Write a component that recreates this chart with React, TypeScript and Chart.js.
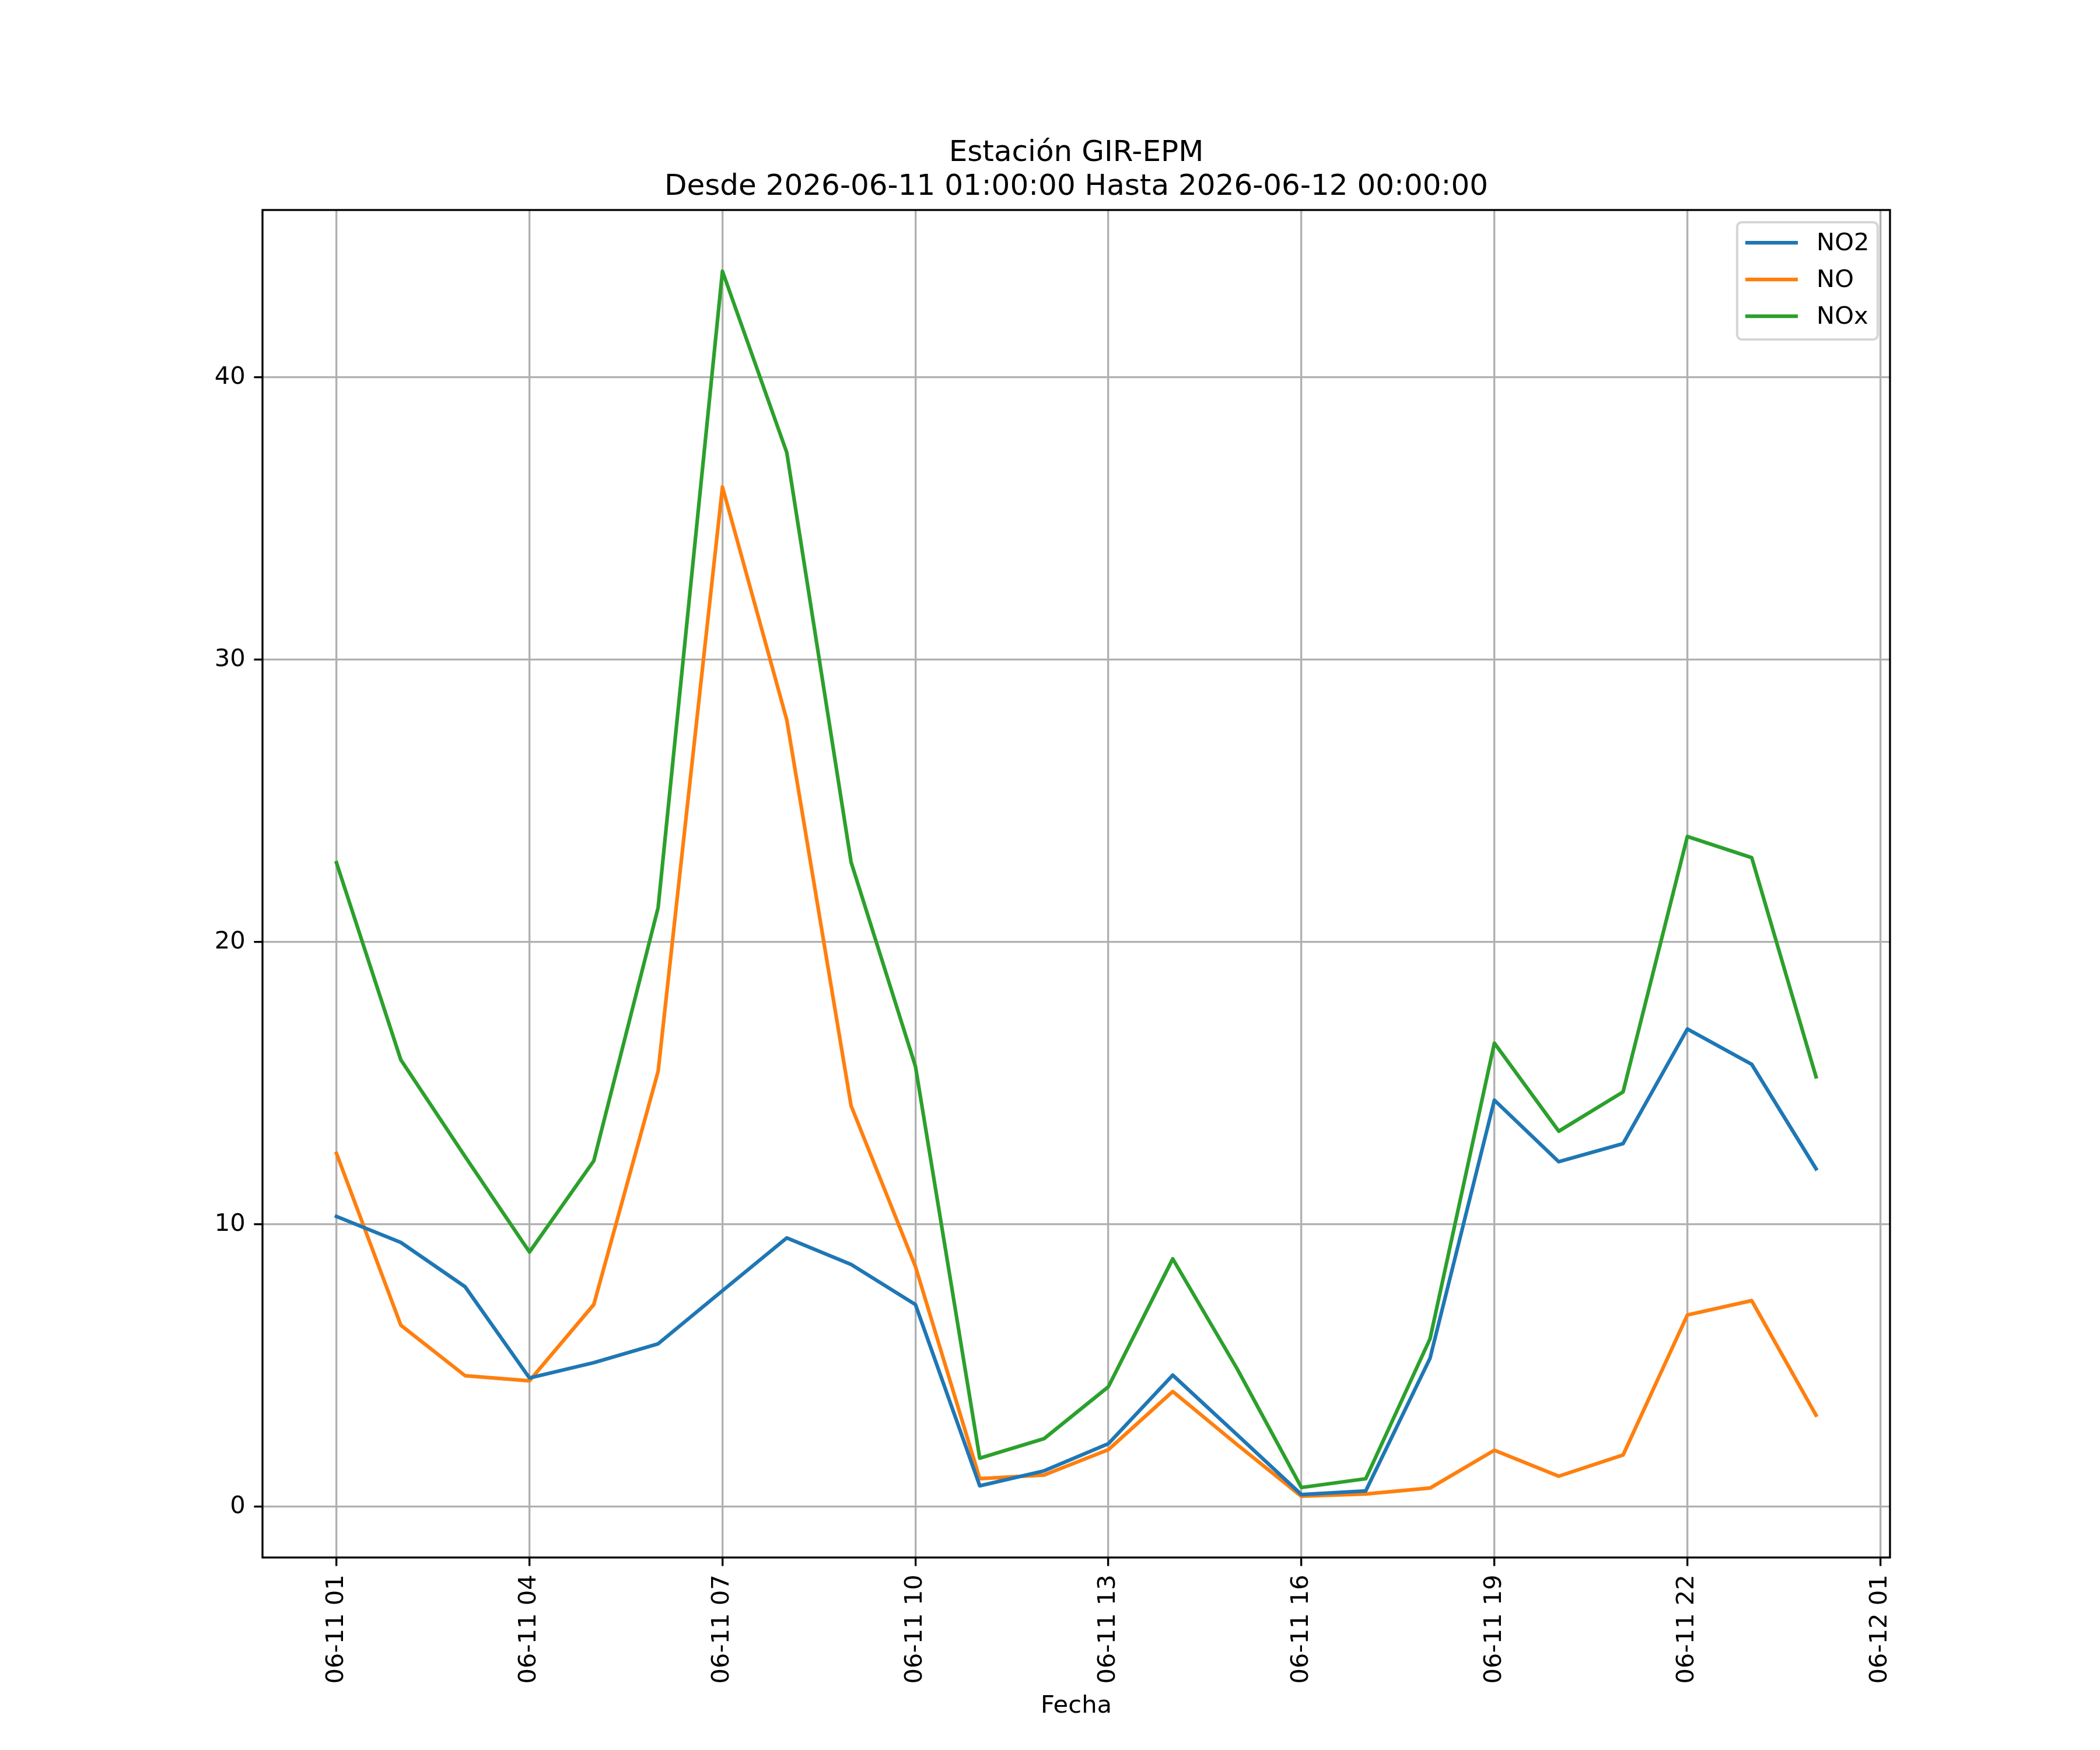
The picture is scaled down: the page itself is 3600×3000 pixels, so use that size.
import React, { useEffect, useRef } from 'react';
import { Chart, registerables } from 'chart.js';

Chart.register(...registerables);

// hours since 2026-06-11 00:00 (24 = 2026-06-12 00:00)
const hours = [1, 2, 3, 4, 5, 6, 7, 8, 9, 10, 11, 12, 13, 14, 15, 16, 17, 18, 19, 20, 21, 22, 23, 24];
const no2 = [10.28, 9.36, 7.79, 4.56, 5.1, 5.77, 7.65, 9.52, 8.58, 7.16, 0.74, 1.27, 2.23, 4.66, 2.55, 0.43, 0.56, 5.26, 14.4, 12.22, 12.86, 16.92, 15.67, 11.97];
const no = [12.51, 6.43, 4.64, 4.46, 7.16, 15.42, 36.12, 27.87, 14.2, 8.51, 0.99, 1.12, 2.02, 4.08, 2.2, 0.37, 0.45, 0.66, 2.0, 1.08, 1.83, 6.79, 7.3, 3.24];
const nox = [22.81, 15.83, 12.4, 9.02, 12.25, 21.22, 43.76, 37.34, 22.83, 15.6, 1.72, 2.41, 4.25, 8.78, 4.89, 0.68, 0.99, 5.95, 16.42, 13.3, 14.69, 23.74, 22.99, 15.23];

const seriesNames = ['NO2', 'NO', 'NOx'];
const seriesColors = ['#1f77b4', '#ff7f0e', '#2ca02c'];

const tickHours = [1, 4, 7, 10, 13, 16, 19, 22, 25];
const tickLabels = ['06-11 01', '06-11 04', '06-11 07', '06-11 10', '06-11 13', '06-11 16', '06-11 19', '06-11 22', '06-12 01'];
const yTicks = [0, 10, 20, 30, 40];

const titleLines = ['Estación GIR-EPM', 'Desde 2026-06-11 01:00:00 Hasta 2026-06-12 00:00:00'];
const xTitle = 'Fecha';

const FONT = 'DejaVu Sans';
const PT = 300 / 72;

// axes spines + matplotlib style legend
const framePlugin = {
  id: 'mplFrame',
  afterDatasetsDraw(chart: any) {
    const { ctx, chartArea: a } = chart;
    ctx.save();
    ctx.strokeStyle = '#000';
    ctx.lineWidth = 0.8 * PT;
    ctx.strokeRect(a.left, a.top, a.right - a.left, a.bottom - a.top);

    const fs = 10 * PT;
    const w = 241;
    const h = 201;
    const x0 = a.right - 21 - w;
    const y0 = a.top + 21;
    ctx.beginPath();
    ctx.roundRect(x0, y0, w, h, 8);
    ctx.fillStyle = 'rgba(255,255,255,0.8)';
    ctx.fill();
    ctx.strokeStyle = 'rgba(204,204,204,0.8)';
    ctx.lineWidth = 1 * PT;
    ctx.stroke();

    ctx.font = `${fs}px "${FONT}"`;
    ctx.textBaseline = 'middle';
    ctx.textAlign = 'left';
    chart.data.datasets.forEach((ds: any, i: number) => {
      const ly = y0 + 35 + i * 63;
      ctx.beginPath();
      ctx.moveTo(x0 + 14, ly);
      ctx.lineTo(x0 + 104, ly);
      ctx.strokeStyle = ds.borderColor;
      ctx.lineWidth = 1.5 * PT;
      ctx.stroke();
      ctx.fillStyle = '#000';
      ctx.fillText(ds.label, x0 + 136, ly + 2);
    });
    ctx.restore();
  },
};

const App: React.FC = () => {
  const chartRef = useRef<HTMLCanvasElement>(null);
  const chartInstance = useRef<Chart | null>(null);

  useEffect(() => {
    document.body.style.margin = '0';
    if (!chartRef.current) return;
    if (chartInstance.current) chartInstance.current.destroy();
    const ctx = chartRef.current.getContext('2d');
    if (!ctx) return;

    const series = [no2, no, nox];
    const all = series.flat();
    const lo = Math.min(...all);
    const hi = Math.max(...all);
    const yPad = (hi - lo) * 0.05;
    const xPad = (hours[hours.length - 1] - hours[0]) * 0.05;

    chartInstance.current = new Chart(ctx, {
      type: 'line',
      data: {
        datasets: series.map((vals, i) => ({
          label: seriesNames[i],
          data: hours.map((hr, j) => ({ x: hr, y: vals[j] })),
          borderColor: seriesColors[i],
          backgroundColor: seriesColors[i],
          borderWidth: 1.5 * PT,
          pointRadius: 0,
          tension: 0,
          borderJoinStyle: 'round',
          borderCapStyle: 'square',
        })),
      },
      plugins: [framePlugin],
      options: {
        responsive: false,
        animation: false,
        devicePixelRatio: 1,
        layout: { padding: { left: 0, right: 360, top: 0, bottom: 0 } },
        plugins: {
          legend: { display: false },
          tooltip: { enabled: false },
          title: {
            display: true,
            text: titleLines,
            fullSize: false,
            color: '#000',
            font: { family: FONT, size: 12 * PT, weight: 'normal', lineHeight: 1.16 },
            padding: { top: 234, bottom: 10 },
          },
        },
        scales: {
          x: {
            type: 'linear',
            min: hours[0] - xPad,
            max: hours[hours.length - 1] + xPad,
            afterBuildTicks: (axis: any) => {
              axis.ticks = tickHours.map((v) => ({ value: v }));
            },
            afterFit: (scale: any) => {
              scale.height = 330;
            },
            ticks: {
              autoSkip: false,
              minRotation: 90,
              maxRotation: 90,
              padding: 3.5 * PT,
              color: '#000',
              font: { family: FONT, size: 10 * PT },
              callback: (value: any) => {
                const i = tickHours.indexOf(Number(value));
                return i >= 0 ? tickLabels[i] : '';
              },
            },
            grid: {
              color: '#b0b0b0',
              lineWidth: 0.8 * PT,
              tickColor: '#000',
              tickLength: 3.5 * PT,
              tickWidth: 0.8 * PT,
            },
            border: { display: false },
            title: {
              display: true,
              text: xTitle,
              color: '#000',
              font: { family: FONT, size: 10 * PT, lineHeight: 1.2 },
              padding: { top: 0, bottom: 50 },
            },
          },
          y: {
            type: 'linear',
            min: lo - yPad,
            max: hi + yPad,
            afterBuildTicks: (axis: any) => {
              axis.ticks = yTicks.map((v) => ({ value: v }));
            },
            afterFit: (scale: any) => {
              scale.width = 450;
            },
            ticks: {
              padding: 3.5 * PT,
              color: '#000',
              font: { family: FONT, size: 10 * PT },
            },
            grid: {
              color: '#b0b0b0',
              lineWidth: 0.8 * PT,
              tickColor: '#000',
              tickLength: 3.5 * PT,
              tickWidth: 0.8 * PT,
            },
            border: { display: false },
          },
        },
      },
    } as any);

    return () => {
      if (chartInstance.current) {
        chartInstance.current.destroy();
        chartInstance.current = null;
      }
    };
  }, []);

  return (
    <div style={{ width: 3600, height: 3000, background: '#fff' }}>
      <canvas ref={chartRef} width={3600} height={3000} style={{ display: 'block', width: 3600, height: 3000 }} />
    </div>
  );
};

export default App;
